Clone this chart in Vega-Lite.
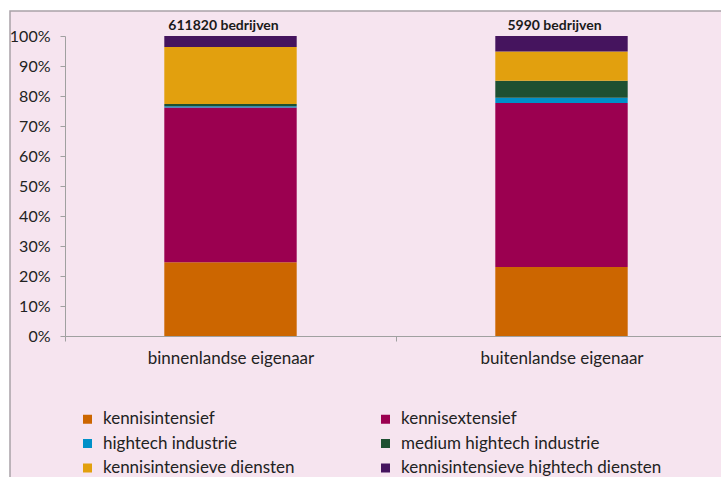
{
  "$schema": "https://vega.github.io/schema/vega-lite/v6.json",
  "width": 715,
  "height": 470,
  "autosize": {"type": "none"},
  "padding": {"left": 10, "top": 11, "right": 0, "bottom": 0},
  "background": "#ffffff",
  "config": {
    "font": "Lato",
    "view": {"fill": "#f6e4ef", "stroke": "#a9a1a8", "strokeWidth": 1.5}
  },
  "datasets": {
    "aandelen": [
      {"eigenaar": "binnenlandse eigenaar", "sector": "kennisintensief", "aandeel": 0.246, "volgorde": 1},
      {"eigenaar": "binnenlandse eigenaar", "sector": "kennisextensief", "aandeel": 0.516, "volgorde": 2},
      {"eigenaar": "binnenlandse eigenaar", "sector": "hightech industrie", "aandeel": 0.004, "volgorde": 3},
      {"eigenaar": "binnenlandse eigenaar", "sector": "medium hightech industrie", "aandeel": 0.007, "volgorde": 4},
      {"eigenaar": "binnenlandse eigenaar", "sector": "kennisintensieve diensten", "aandeel": 0.190, "volgorde": 5},
      {"eigenaar": "binnenlandse eigenaar", "sector": "kennisintensieve hightech diensten", "aandeel": 0.037, "volgorde": 6},
      {"eigenaar": "buitenlandse eigenaar", "sector": "kennisintensief", "aandeel": 0.230, "volgorde": 1},
      {"eigenaar": "buitenlandse eigenaar", "sector": "kennisextensief", "aandeel": 0.547, "volgorde": 2},
      {"eigenaar": "buitenlandse eigenaar", "sector": "hightech industrie", "aandeel": 0.017, "volgorde": 3},
      {"eigenaar": "buitenlandse eigenaar", "sector": "medium hightech industrie", "aandeel": 0.057, "volgorde": 4},
      {"eigenaar": "buitenlandse eigenaar", "sector": "kennisintensieve diensten", "aandeel": 0.097, "volgorde": 5},
      {"eigenaar": "buitenlandse eigenaar", "sector": "kennisintensieve hightech diensten", "aandeel": 0.052, "volgorde": 6}
    ],
    "totalen": [
      {"eigenaar": "binnenlandse eigenaar", "label": "611820 bedrijven"},
      {"eigenaar": "buitenlandse eigenaar", "label": "5990 bedrijven"}
    ]
  },
  "layer": [
    {
      "data": {"name": "aandelen"},
      "mark": {"type": "bar", "width": {"band": 0.4}},
      "encoding": {
        "x": {
          "field": "eigenaar",
          "type": "nominal",
          "sort": null,
          "scale": {"range": [55, 717], "paddingInner": 0, "paddingOuter": 0},
          "axis": {
            "title": null,
            "orient": "bottom",
            "offset": -145,
            "labelAngle": 0,
            "tickBand": "extent",
            "domainColor": "#a0a0a0",
            "tickColor": "#a0a0a0",
            "tickSize": 5,
            "labelFontSize": 17,
            "labelColor": "#222222",
            "labelPadding": 9
          }
        },
        "y": {
          "field": "aandeel",
          "type": "quantitative",
          "stack": "zero",
          "scale": {"domain": [0, 1], "range": [325, 25], "nice": false},
          "axis": {
            "title": null,
            "offset": -55,
            "format": ".0%",
            "values": [0, 0.1, 0.2, 0.3, 0.4, 0.5, 0.6, 0.7, 0.8, 0.9, 1],
            "grid": false,
            "domainColor": "#a0a0a0",
            "tickColor": "#a0a0a0",
            "tickSize": 5,
            "labelFontSize": 16,
            "labelColor": "#222222",
            "labelPadding": 10
          }
        },
        "color": {
          "field": "sector",
          "type": "nominal",
          "scale": {
            "domain": ["kennisintensief", "hightech industrie", "kennisintensieve diensten", "kennisextensief", "medium hightech industrie", "kennisintensieve hightech diensten"],
            "range": ["#cc6600", "#0090c8", "#e2a00e", "#9b0050", "#1e5032", "#45145e"]
          },
          "legend": {
            "title": null,
            "orient": "none",
            "legendX": 69,
            "legendY": 399.5,
            "columns": 2,
            "padding": 0,
            "columnPadding": 82,
            "rowPadding": 6.5,
            "symbolType": "square",
            "symbolSize": 81,
            "symbolStrokeWidth": 0,
            "labelOffset": 7,
            "labelFontSize": 17,
            "labelColor": "#222222",
            "labelLimit": 400
          }
        },
        "order": {"field": "volgorde", "type": "quantitative"}
      }
    },
    {
      "data": {"name": "totalen"},
      "mark": {"type": "text", "fontWeight": "bold", "fontSize": 14, "baseline": "alphabetic", "dy": -6, "dx": -7, "color": "#1a1a1a"},
      "encoding": {
        "x": {"field": "eigenaar", "type": "nominal", "sort": null},
        "y": {"datum": 1},
        "text": {"field": "label"}
      }
    }
  ]
}
